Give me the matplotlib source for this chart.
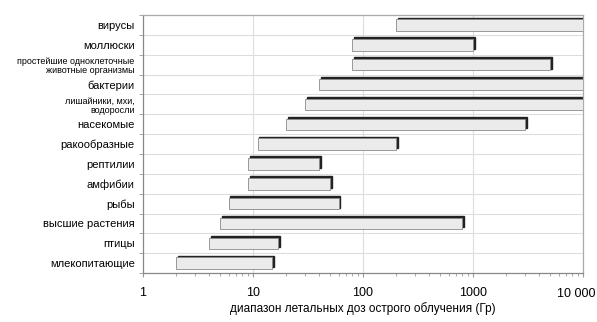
import numpy as np
import matplotlib.pyplot as plt
import matplotlib.transforms as mtransforms
from matplotlib.ticker import FixedLocator, LogLocator, NullFormatter

plt.rcParams['font.family'] = ['Liberation Sans', 'DejaVu Sans']

groups = ['вирусы', 'моллюски', 'простейшие одноклеточные\nживотные организмы',
          'бактерии', 'лишайники, мхи,\nводоросли', 'насекомые', 'ракообразные',
          'рептилии', 'амфибии', 'рыбы', 'высшие растения', 'птицы', 'млекопитающие']
dose_min = [200, 80, 80, 40, 30, 20, 11, 9, 9, 6, 5, 4, 2]
dose_max = [10000, 1000, 5000, 10000, 10000, 3000, 200, 40, 50, 60, 800, 17, 15]
small_labels = [2, 4]
xticks = [1, 10, 100, 1000, 10000]
xtick_labels = ['1', '10', '100', '1000', '10 000']

fig = plt.figure(figsize=(5.97, 3.22), dpi=100)
ax = fig.add_axes([0.2395, 0.152, 0.737, 0.801])

y = np.arange(len(groups))[::-1]
widths = np.array(dose_max) - np.array(dose_min)

# shadow bars shifted up-right
shadow = mtransforms.offset_copy(ax.transData, fig=fig, x=1.8, y=1.8, units='dots')
ax.barh(y, widths, left=dose_min, height=0.58, color='#222222',
        edgecolor='#222222', linewidth=1.0, transform=shadow, zorder=2)
ax.barh(y, widths, left=dose_min, height=0.58, color='#ebebeb',
        edgecolor='#8a8a8a', linewidth=0.6, zorder=3)

ax.set_xscale('log')
ax.set_xlim(1, 10000)
ax.set_ylim(-0.5, len(groups) - 0.5)
ax.set_xticks(xticks)
ax.set_xticklabels(xtick_labels[:-1] + [''], fontsize=9)
# last label sits a bit left of its tick so it stays inside the picture
ax.annotate(xtick_labels[-1], xy=(xticks[-1], 0), xycoords=('data', 'axes fraction'),
            xytext=(-5, -10.5), textcoords='offset points', ha='center', va='top',
            fontsize=9)
ax.xaxis.set_minor_locator(LogLocator(base=10, subs=np.arange(2, 10), numticks=20))
ax.xaxis.set_minor_formatter(NullFormatter())
ax.set_xlabel('диапазон летальных доз острого облучения (Гр)', fontsize=8.5, labelpad=2)

ax.set_yticks(y)
ax.set_yticklabels(groups)
for i, lab in enumerate(ax.get_yticklabels()):
    lab.set_fontsize(6.5 if i in small_labels else 8)
    lab.set_linespacing(1.1)
ax.tick_params(axis='y', which='major', length=0, pad=6)
ax.yaxis.set_minor_locator(FixedLocator(np.arange(-0.5, len(groups), 1)))
ax.tick_params(axis='y', which='minor', length=3, color='#999999', direction='out')
ax.tick_params(axis='x', which='major', length=3, color='#999999', pad=7)
ax.tick_params(axis='x', which='minor', length=2, color='#999999')

ax.grid(axis='x', which='major', color='#dddddd', linewidth=0.8, zorder=0)
ax.grid(axis='y', which='minor', color='#dddddd', linewidth=0.8, zorder=0)
ax.set_axisbelow(True)
for s in ax.spines.values():
    s.set_color('#aaaaaa')
    s.set_linewidth(0.9)
ax.spines['left'].set_color('#888888')
ax.spines['bottom'].set_color('#888888')

fig.savefig('out.png', dpi=100)
